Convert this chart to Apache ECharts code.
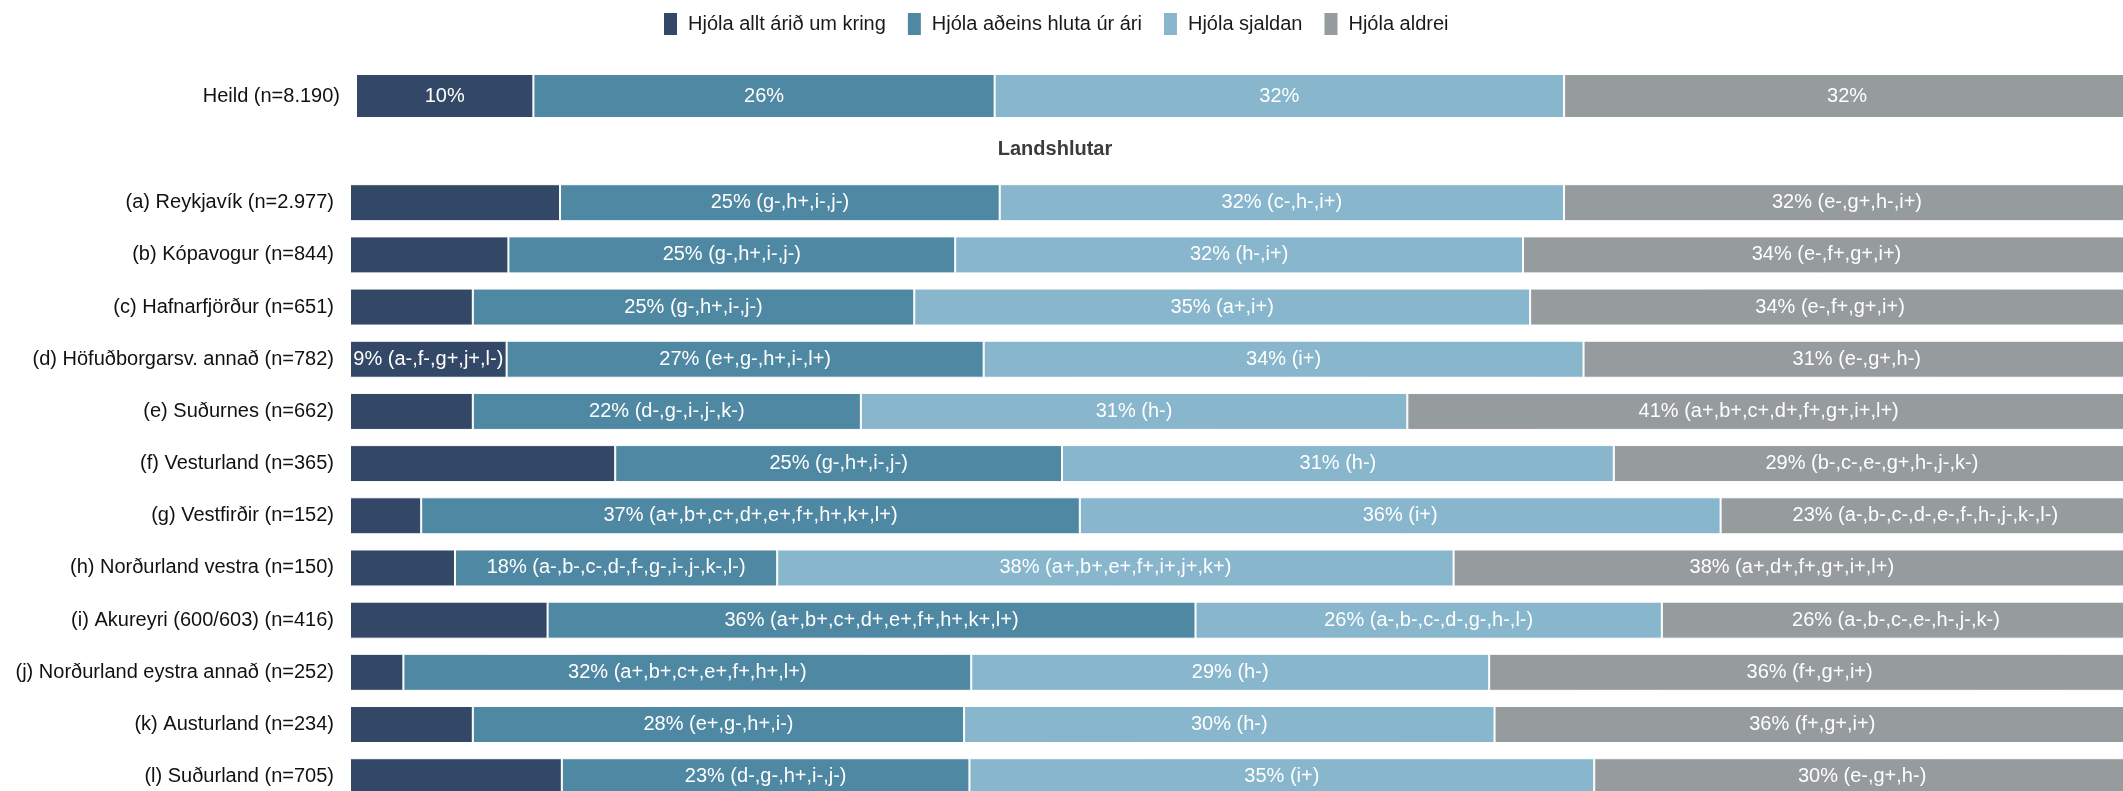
<!DOCTYPE html>
<html>
<head>
<meta charset="utf-8">
<script src="https://cdn.jsdelivr.net/npm/echarts@6/dist/echarts.min.js"></script>
<style>
html,body{margin:0;padding:0;background:#fff;}
#chart{width:2123px;height:791px;}
</style>
</head>
<body>
<div id="chart"></div>
<script>
// ---- Data ----
const seriesNames = ['Hjóla allt árið um kring', 'Hjóla aðeins hluta úr ári', 'Hjóla sjaldan', 'Hjóla aldrei'];
const totalCategory = ['Heild (n=8.190)'];
const totalValues = [10.0, 26.0, 32.1, 31.9];
const sectionTitle = 'Landshlutar';
const categories = [
  '(a) Reykjavík (n=2.977)',
  '(b) Kópavogur (n=844)',
  '(c) Hafnarfjörður (n=651)',
  '(d) Höfuðborgarsv. annað (n=782)',
  '(e) Suðurnes (n=662)',
  '(f) Vesturland (n=365)',
  '(g) Vestfirðir (n=152)',
  '(h) Norðurland vestra (n=150)',
  '(i) Akureyri (600/603) (n=416)',
  '(j) Norðurland eystra annað (n=252)',
  '(k) Austurland (n=234)',
  '(l) Suðurland (n=705)'
];
const allYear  = [11.8, 8.9, 6.9, 8.8, 6.9, 14.9, 4.0, 5.9, 11.1, 3.0, 6.9, 11.9];
const partYear = [24.7, 25.1, 24.8, 26.8, 21.8, 25.1, 37.0, 18.1, 36.4, 31.9, 27.6, 22.9];
const seldom   = [31.7, 31.9, 34.6, 33.7, 30.7, 31.0, 36.0, 38.0, 26.2, 29.1, 29.8, 35.1];
const never    = [31.8, 34.1, 33.7, 30.7, 40.6, 29.0, 23.0, 38.0, 26.3, 36.0, 35.7, 30.1];
// significance notes (null = no label shown)
const allYearSig = [null, null, null, '(a-,f-,g+,j+,l-)', null, null, null, null, null, null, null, null];
const partYearSig = ['(g-,h+,i-,j-)', '(g-,h+,i-,j-)', '(g-,h+,i-,j-)', '(e+,g-,h+,i-,l+)', '(d-,g-,i-,j-,k-)', '(g-,h+,i-,j-)',
  '(a+,b+,c+,d+,e+,f+,h+,k+,l+)', '(a-,b-,c-,d-,f-,g-,i-,j-,k-,l-)', '(a+,b+,c+,d+,e+,f+,h+,k+,l+)', '(a+,b+,c+,e+,f+,h+,l+)',
  '(e+,g-,h+,i-)', '(d-,g-,h+,i-,j-)'];
const seldomSig = ['(c-,h-,i+)', '(h-,i+)', '(a+,i+)', '(i+)', '(h-)', '(h-)', '(i+)', '(a+,b+,e+,f+,i+,j+,k+)',
  '(a-,b-,c-,d-,g-,h-,l-)', '(h-)', '(h-)', '(i+)'];
const neverSig = ['(e-,g+,h-,i+)', '(e-,f+,g+,i+)', '(e-,f+,g+,i+)', '(e-,g+,h-)', '(a+,b+,c+,d+,f+,g+,i+,l+)',
  '(b-,c-,e-,g+,h-,j-,k-)', '(a-,b-,c-,d-,e-,f-,h-,j-,k-,l-)', '(a+,d+,f+,g+,i+,l+)', '(a-,b-,c-,e-,h-,j-,k-)',
  '(f+,g+,i+)', '(f+,g+,i+)', '(e-,g+,h-)'];

const colors = ['#334866', '#4f88a2', '#87b6cd', '#969b9d'];
const regionValues = [allYear, partYear, seldom, never];
const regionSigs = [allYearSig, partYearSig, seldomSig, neverSig];

const FONT = 'Liberation Sans, Arial, sans-serif';

const chart = echarts.init(document.getElementById('chart'), null, {renderer: 'canvas'});

const series = [];
// total (Heild) series
seriesNames.forEach((name, i) => {
  series.push({
    name: name, type: 'bar', stack: 'total', xAxisIndex: 0, yAxisIndex: 0,
    barWidth: 44,
    itemStyle: {color: colors[i], borderColor: '#ffffff', borderWidth: 1},
    label: {
      show: true, position: 'inside', color: '#ffffff', fontSize: 20, fontFamily: FONT,
      formatter: p => Math.round(p.value) + '%'
    },
    emphasis: {disabled: true},
    data: [totalValues[i]]
  });
});
// regional series
seriesNames.forEach((name, i) => {
  const vals = regionValues[i], sigs = regionSigs[i];
  series.push({
    name: name, type: 'bar', stack: 'region', xAxisIndex: 1, yAxisIndex: 1,
    barWidth: 37,
    itemStyle: {color: colors[i], borderColor: '#ffffff', borderWidth: 1},
    label: {
      show: true, position: 'inside', color: '#ffffff', fontSize: 20, fontFamily: FONT,
      overflow: 'none',
      formatter: p => sigs[p.dataIndex] === null ? '' : Math.round(p.value) + '% ' + sigs[p.dataIndex]
    },
    emphasis: {disabled: true},
    data: vals
  });
});

chart.setOption({
  animation: false,
  color: colors,
  textStyle: {fontFamily: FONT},
  title: {
    text: sectionTitle, left: 1050, top: 134, textAlign: 'center',
    textStyle: {fontSize: 20, fontWeight: 'bold', color: '#3c3c3c', fontFamily: FONT}
  },
  legend: {
    data: seriesNames, left: 657, top: 6,
    itemWidth: 15, itemHeight: 24, itemGap: 20, icon: 'rect',
    textStyle: {fontSize: 20, color: '#1a1a1a', fontFamily: FONT, padding: [0, 0, 0, 5]},
    selectedMode: false
  },
  grid: [
    {left: 356, width: 1774, top: 74, height: 44, containLabel: false, outerBoundsMode: 'none'},
    {left: 350, width: 1780, top: 176.6, height: 626.2, containLabel: false, outerBoundsMode: 'none'}
  ],
  xAxis: [
    {type: 'value', gridIndex: 0, min: 0, max: 100, show: false},
    {type: 'value', gridIndex: 1, min: 0, max: 100, show: false}
  ],
  yAxis: [
    {type: 'category', gridIndex: 0, data: totalCategory, inverse: true,
     axisLine: {show: false}, axisTick: {show: false}, splitLine: {show: false},
     axisLabel: {fontSize: 20, color: '#111', margin: 16, fontFamily: FONT}},
    {type: 'category', gridIndex: 1, data: categories, inverse: true,
     axisLine: {show: false}, axisTick: {show: false}, splitLine: {show: false},
     axisLabel: {fontSize: 20, color: '#111', margin: 16, fontFamily: FONT}}
  ],
  series: series
});
</script>
</body>
</html>
